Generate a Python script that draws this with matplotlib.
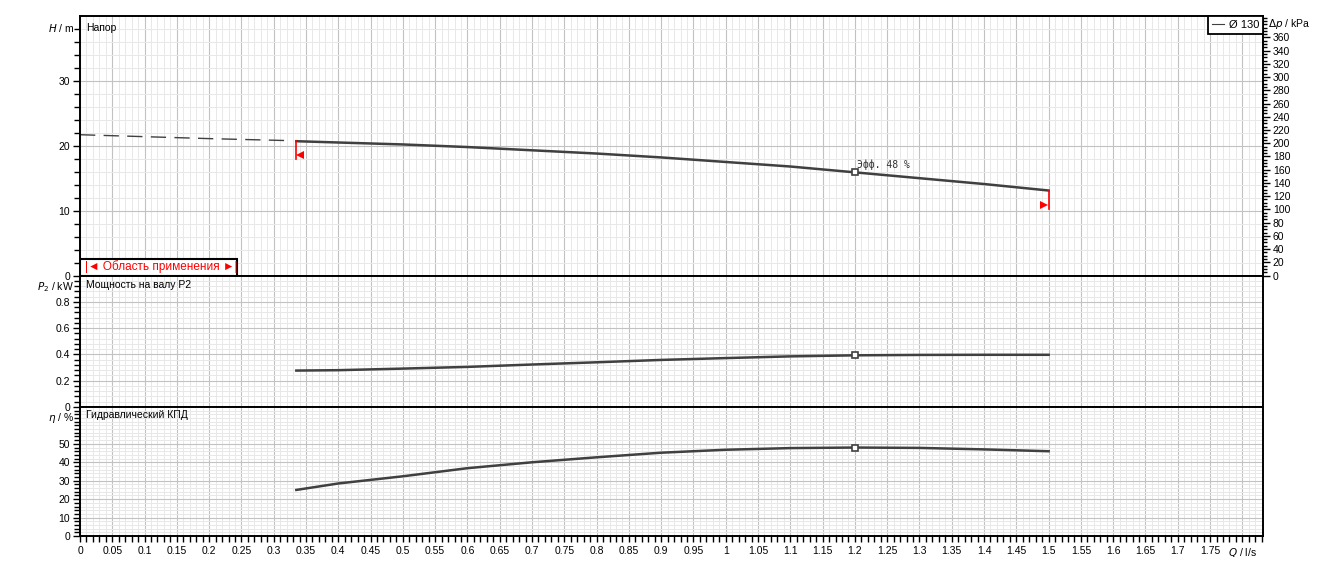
import matplotlib
matplotlib.use("Agg")
import matplotlib.pyplot as plt
from matplotlib.ticker import MultipleLocator, FixedLocator
from matplotlib.lines import Line2D
from matplotlib.patches import Rectangle

# head curve outside the application range (dashed)
q_dash = [0.0, 0.1, 0.2, 0.32]
h_dash = [21.7, 21.4, 21.1, 20.8]

# curves inside the application range
q = [0.335, 0.4, 0.5, 0.6, 0.7, 0.8, 0.9, 1.0, 1.1, 1.2, 1.3, 1.4, 1.5]
head = [20.7, 20.5, 20.2, 19.8, 19.3, 18.8, 18.2, 17.5, 16.8, 15.9, 15.0, 14.1, 13.1]
power = [0.277, 0.28, 0.292, 0.305, 0.323, 0.34, 0.358, 0.372, 0.385, 0.393, 0.396, 0.397, 0.397]
eff = [25.0, 28.5, 32.4, 36.8, 40.0, 42.7, 45.2, 46.8, 47.7, 48.0, 47.8, 47.0, 46.0]

q_opt = 1.2
h_opt, p_opt, e_opt = 15.9, 0.393, 48.0
q_min, q_max = 0.334, 1.5

xlabels = ['0', '0.05', '0.1', '0.15', '0.2', '0.25', '0.3', '0.35', '0.4', '0.45', '0.5',
           '0.55', '0.6', '0.65', '0.7', '0.75', '0.8', '0.85', '0.9', '0.95', '1', '1.05',
           '1.1', '1.15', '1.2', '1.25', '1.3', '1.35', '1.4', '1.45', '1.5', '1.55', '1.6',
           '1.65', '1.7', '1.75', '$Q$ / l/s']

plt.rcParams['font.family'] = ['Liberation Sans', 'DejaVu Sans']
plt.rcParams['font.size'] = 7.5

CURVE = '#404040'
W, H = 1344, 571
fig = plt.figure(figsize=(W / 100, H / 100), dpi=100)

def box(top, bot):
    return [80 / W, 1 - bot / H, (1263 - 80) / W, (bot - top) / H]

ax1 = fig.add_axes(box(16, 275.5))
ax2 = fig.add_axes(box(275.5, 407), sharex=ax1)
ax3 = fig.add_axes(box(407, 536), sharex=ax1)

XMAX = 1.832

def style(ax, ymax):
    ax.set_xlim(0, XMAX)
    ax.set_ylim(0, ymax)
    ax.xaxis.set_major_locator(MultipleLocator(0.05))
    ax.xaxis.set_minor_locator(MultipleLocator(0.01))
    ax.grid(which='minor', color='#e8e8e8', lw=0.72)
    ax.grid(which='major', color='#c2c2c2', lw=0.8)
    ax.set_axisbelow(True)
    for s in ax.spines.values():
        s.set_linewidth(1.4)
    ax.tick_params(axis='y', which='major', length=5, width=1, pad=2)
    ax.tick_params(axis='y', which='minor', length=4, width=1)
    ax.tick_params(axis='x', which='both', length=4, width=1)

style(ax1, 40)
style(ax2, 1.0)
style(ax3, 70)

ax1.yaxis.set_major_locator(FixedLocator([0, 10, 20, 30]))
ax1.yaxis.set_minor_locator(FixedLocator([v for v in range(2, 40, 2)]))
ax2.yaxis.set_major_locator(FixedLocator([0, 0.2, 0.4, 0.6, 0.8]))
ax2.yaxis.set_minor_locator(FixedLocator([i * 0.04 for i in range(1, 25)]))
ax2.set_yticklabels(['0', '0.2', '0.4', '0.6', '0.8'])
ax3.yaxis.set_major_locator(FixedLocator([0, 10, 20, 30, 40, 50]))
ax3.yaxis.set_minor_locator(FixedLocator([v for v in range(2, 70, 2)]))
for ax in (ax1, ax2):
    ax.tick_params(axis='x', which='both', bottom=False, labelbottom=False)

ax3.set_xticks([i * 0.05 for i in range(len(xlabels))])
ax3.set_xticklabels(xlabels)

# axis captions at top of each panel
ax1.text(-0.005, 38.2, '$H$ / m', ha='right', va='center', transform=ax1.get_yaxis_transform())
ax2.text(-0.005, 0.915, '$P_2$ / kW', ha='right', va='center', transform=ax2.get_yaxis_transform())
ax3.text(-0.005, 63.8, '$\\eta$ / %', ha='right', va='center', transform=ax3.get_yaxis_transform())

ax1.text(0.005, 38.2, 'Напор', transform=ax1.get_yaxis_transform(), va='center')
ax2.text(0.005, 0.925, 'Мощность на валу P2', transform=ax2.get_yaxis_transform(), va='center')
ax3.text(0.005, 65.5, 'Гидравлический КПД', transform=ax3.get_yaxis_transform(), va='center')

# right axis in kPa
axr = ax1.twinx()
axr.set_ylim(0, 40 * 9.81)
axr.yaxis.set_major_locator(FixedLocator(list(range(0, 380, 20))))
axr.yaxis.set_minor_locator(MultipleLocator(5))
axr.tick_params(axis='y', which='major', length=5, width=1, pad=2)
axr.tick_params(axis='y', which='minor', length=3, width=1)
axr.text(1.004, 380, '$\\Delta p$ / kPa', transform=axr.get_yaxis_transform(), va='center')
for s in axr.spines.values():
    s.set_visible(False)

# curves
ax1.plot(q_dash, h_dash, color=CURVE, lw=1, dashes=(11, 6))
ax1.plot(q, head, color=CURVE, lw=1.8)
ax2.plot(q, power, color=CURVE, lw=1.8)
ax3.plot(q, eff, color=CURVE, lw=1.8)
for ax, v in ((ax1, h_opt), (ax2, p_opt), (ax3, e_opt)):
    ax.plot([q_opt], [v], marker='s', ms=5, mfc='white', mec=CURVE, mew=1.2, zorder=5)
ax1.text(q_opt + 0.003, h_opt + 1.2, 'Эфф. 48 %', fontsize=7, family='DejaVu Sans Mono',
         color='#333333', va='center')

# application range markers
ax1.plot([q_min, q_min], [head[0], 18.0], color='red', lw=1.2)
ax1.plot([q_min + 0.006], [18.6], marker='<', ms=6, color='red', mew=0)
ax1.plot([q_max, q_max], [head[-1], 10.3], color='red', lw=1.2)
ax1.plot([q_max - 0.007], [10.8], marker='>', ms=6, color='red', mew=0)

# application range box
ax1.add_patch(Rectangle((0, 0), 157 / 1183, 17 / 259.5, transform=ax1.transAxes,
                        facecolor='white', edgecolor='black', lw=1.5, zorder=6))
ax1.text(81 / 1183, 8.5 / 259.5, '|◄ Область применения ►|', transform=ax1.transAxes,
         ha='center', va='center', color='red', fontsize=8.5, zorder=7,
         family=['Liberation Sans', 'DejaVu Sans'])

# legend
leg = ax1.legend(handles=[Line2D([], [], color=CURVE, lw=0.8)], labels=['Ø 130'],
                 loc='upper right', handlelength=1.1, handletextpad=0.4, fancybox=False,
                 edgecolor='black', framealpha=1, borderaxespad=0, fontsize=8,
                 borderpad=0.35)
leg.get_frame().set_linewidth(1.3)
leg.set_zorder(8)

fig.savefig('out.png', dpi=100)
